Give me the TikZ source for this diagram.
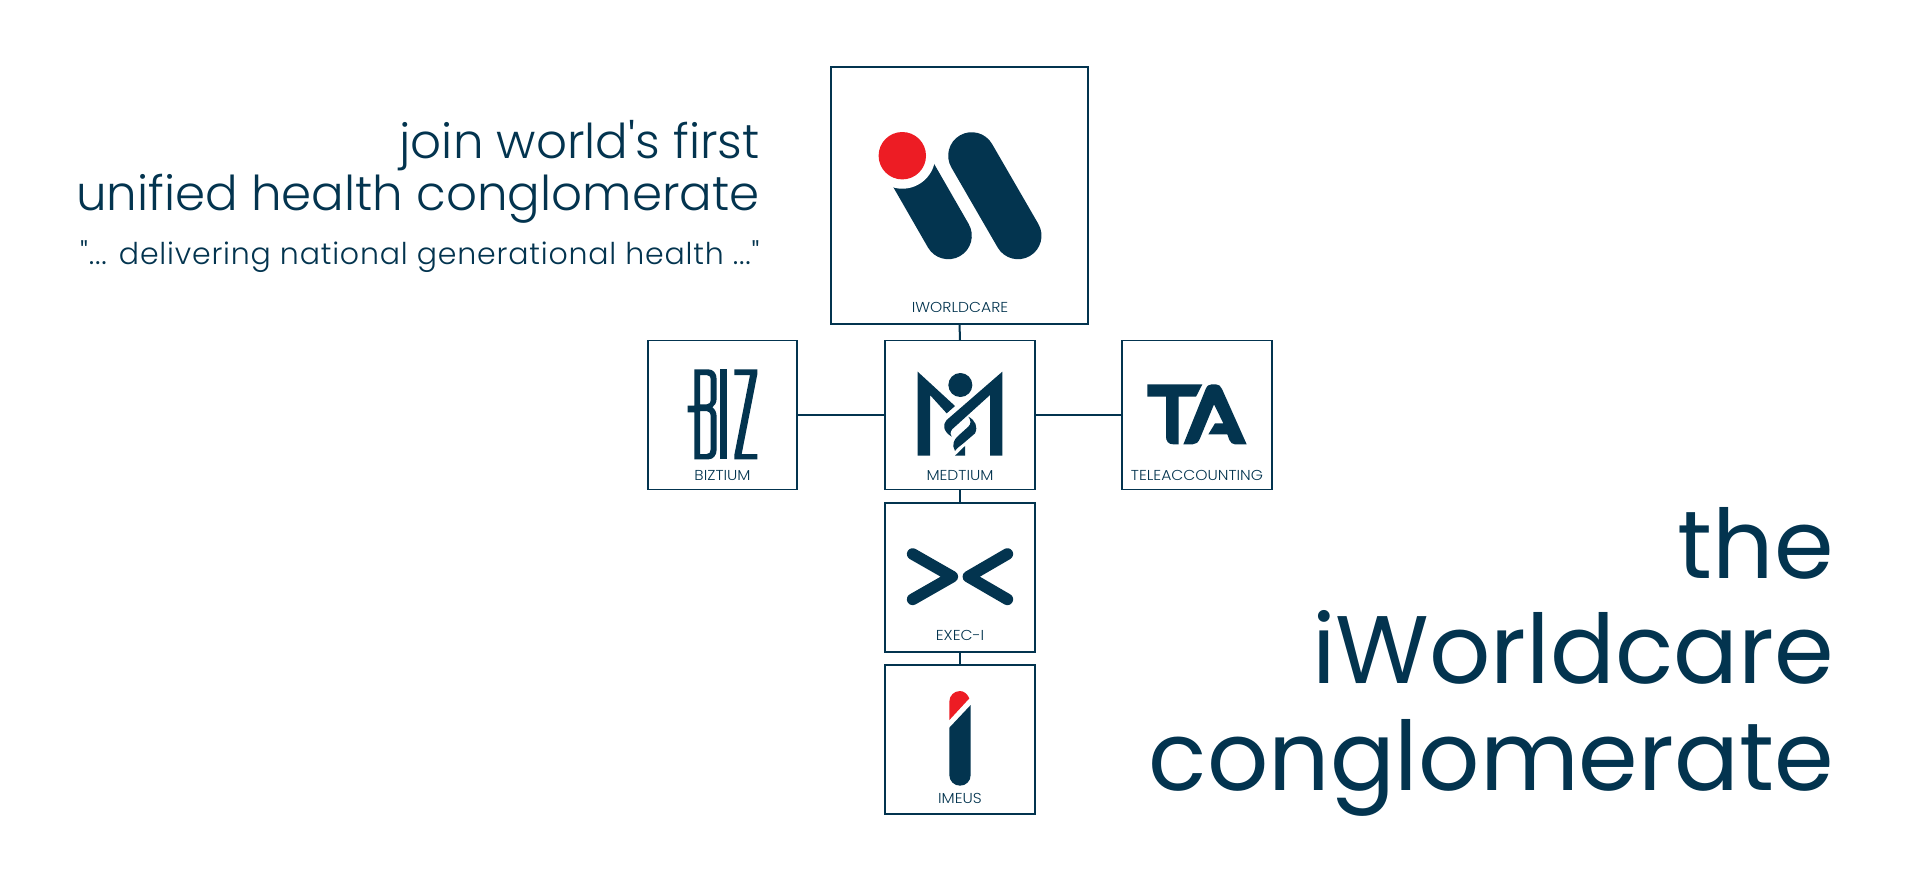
\documentclass[tikz,border=0pt]{standalone}
\usepackage{fontspec}
\setmainfont{Poppins}[UprightFont=* Light,FakeStretch=1.08]
\newfontfamily\headfont{Poppins}[FakeStretch=1.0]
\newfontfamily\leadfont{Poppins}[UprightFont=* Light,FakeStretch=1.007]
\newfontfamily\quotefont{Poppins}[UprightFont=* Light,LetterSpace=2.7]
\definecolor{navy}{HTML}{03344F}
\definecolor{logored}{HTML}{ED1C24}
\tikzset{
  bigbox/.style={draw=navy,line width=1.3pt,fill=white,inner sep=0pt,outer sep=0pt,minimum width=128.5pt,minimum height=128.5pt},
  smallbox/.style={draw=navy,line width=.85pt,fill=white,inner sep=0pt,outer sep=0pt,minimum width=74.75pt,minimum height=74.5pt},
  link/.style={draw=navy,line width=1pt},
  boxlabel/.style={text=navy,font=\fontsize{7.2}{8}\selectfont,anchor=base,inner sep=0pt},
  headline/.style={text=navy,anchor=base east,inner sep=0pt},
  zoomed/.style={x=0.16667pt,y=-0.16667pt}
}
\begin{document}
\begin{tikzpicture}[x=.5pt,y=-.5pt]
\path[use as bounding box,fill=white] (0,0) rectangle (1920,880);
% boxes
\node[bigbox] (top) at (959.5,195.5) {};
\node[smallbox] (med) at (960,415) {};
\node[smallbox] (biz) at (722.5,415) {};
\node[smallbox] (ta) at (1197,415) {};
\node[smallbox] (exec) at (960,577.2) {};
\node[smallbox] (ime) at (960,739.2) {};
\draw[link] (top.south) -- (med.north);
\draw[link] (biz.east) -- (med.west);
\draw[link] (med.east) -- (ta.west);
\draw[link] (med.south) -- (exec.north);
\draw[link] (exec.south) -- (ime.north);
% labels
\node[boxlabel] (l1) at (960,312) {IWORLDCARE};
\node[boxlabel] (l2) at (722.5,480.7) {BIZTIUM};
\node[boxlabel] (l3) at (960,480.7) {MEDTIUM};
\node[boxlabel] (l4) at (1197,480.7) {TELEACCOUNTING};
\node[boxlabel] (l5) at (960,640.7) {EXEC-I};
\node[boxlabel] (l6) at (960,803) {IMEUS};
% iWorldcare logo
\draw[navy,line width=23.5pt,line cap=round] (902.3,155.7) -- (948.3,235.7);
\draw[navy,line width=23.5pt,line cap=round] (971.7,155.7) -- (1018,235.7);
\fill[white] (902.3,155.7) circle (33);
\fill[logored] (902.3,155.7) circle (23.7);
% BIZ logo
\begin{scope}[shift={(680,360)},zoomed]
\fill[navy,even odd rule]
 (43,28) -- (85,28) .. controls (100,28) and (110,40) .. (110,58) -- (110,115) .. controls (110,128) and (104,137) .. (97,142) .. controls (104,147) and (110,156) .. (110,170) -- (110,268) .. controls (110,286) and (100,298) .. (85,298) -- (43,298) -- (43,157) -- (23,157) -- (23,137) -- (43,137) -- cycle
 (60,45) -- (80,45) .. controls (88,45) and (92,50) .. (92,60) -- (92,118) .. controls (92,128) and (88,133) .. (80,133) -- (60,133) -- cycle
 (60,153) -- (80,153) .. controls (88,153) and (92,160) .. (92,170) -- (92,268) .. controls (92,277) and (88,282) .. (80,282) -- (60,282) -- cycle;
\fill[navy] (120,28) rectangle (142,298);
\fill[navy] (163,28) -- (232,28) -- (232,42) -- (185,282) -- (232,282) -- (232,298) -- (163,298) -- (163,285) -- (210,45) -- (163,45) -- cycle;
\end{scope}
% M logo
\begin{scope}[shift={(910,365)},zoomed]
\fill[navy] (23,20) -- (135,123) -- (110,145) -- (60,90) -- (60,272) -- (23,272) -- cycle;
\fill[navy] (277,20) -- (110,165) .. controls (98,178) and (98,198) .. (125,215) .. controls (118,203) and (122,195) .. (135,185) -- (240,90) -- (240,272) -- (277,272) -- cycle;
\fill[navy] (175,155) .. controls (195,165) and (205,185) .. (195,205) -- (160,235) .. controls (150,243) and (140,250) .. (135,258) .. controls (125,240) and (130,225) .. (145,212) -- (175,185) .. controls (185,175) and (182,165) .. (175,155) -- cycle;
\fill[navy] (135,272) -- (165,243) -- (165,272) -- cycle;
\fill[navy] (151,60) circle [radius=36];
\end{scope}
% TA logo
\begin{scope}[shift={(1140,375)},zoomed]
\fill[navy] (22,28) -- (187,28) -- (168,65) -- (116,65) -- (116,208) -- (100,208) .. controls (85,208) and (78,198) .. (78,185) -- (78,65) -- (22,65) -- cycle;
\fill[navy] (130,208) -- (197,42) .. controls (201,32) and (208,28) .. (215,28) -- (228,28) .. controls (236,28) and (242,33) .. (246,42) -- (320,208) -- (285,208) .. controls (277,208) and (272,203) .. (268,195) -- (262,178) -- (205,178) -- (225,145) -- (250,145) -- (222,88) -- (180,190) .. controls (175,202) and (168,208) .. (158,208) -- cycle;
\end{scope}
% Exec-I logo
\begin{scope}[shift={(880,490)},zoomed]
\draw[navy,line width=5.8pt,line cap=round,line join=round] (98,192) -- (217,260) -- (98,328);
\draw[navy,line width=5.8pt,line cap=round,line join=round] (382,192) -- (265,260) -- (382,328);
\end{scope}
% Imeus logo
\begin{scope}[shift={(930,685)},zoomed]
\fill[navy] (58,128) -- (122,60) -- (122,270) .. controls (122,288) and (108,302) .. (90,302) .. controls (72,302) and (58,288) .. (58,270) -- cycle;
\fill[logored] (58,105) -- (58,50) .. controls (58,32) and (72,18) .. (90,18) .. controls (102,18) and (112,27) .. (118,40) -- cycle;
\end{scope}
% headings
\node[headline,font=\leadfont\fontsize{24}{28}\selectfont] (h1) at (760,158) {join world's first};
\node[headline,font=\leadfont\fontsize{24}{28}\selectfont] (h2) at (760,210.5) {unified health conglomerate};
\node[headline,font=\quotefont\fontsize{15}{17}\selectfont] (h3) at (760,264) {"... delivering national generational health ..."};
\node[headline,font=\headfont\fontsize{48}{56}\selectfont] (t1) at (1834,578) {the};
\node[headline,font=\headfont\fontsize{48}{56}\selectfont] (t2) at (1834,683) {iWorldcare};
\node[headline,font=\headfont\fontsize{48}{56}\selectfont] (t3) at (1834,790) {conglomerate};
\end{tikzpicture}
\end{document}
